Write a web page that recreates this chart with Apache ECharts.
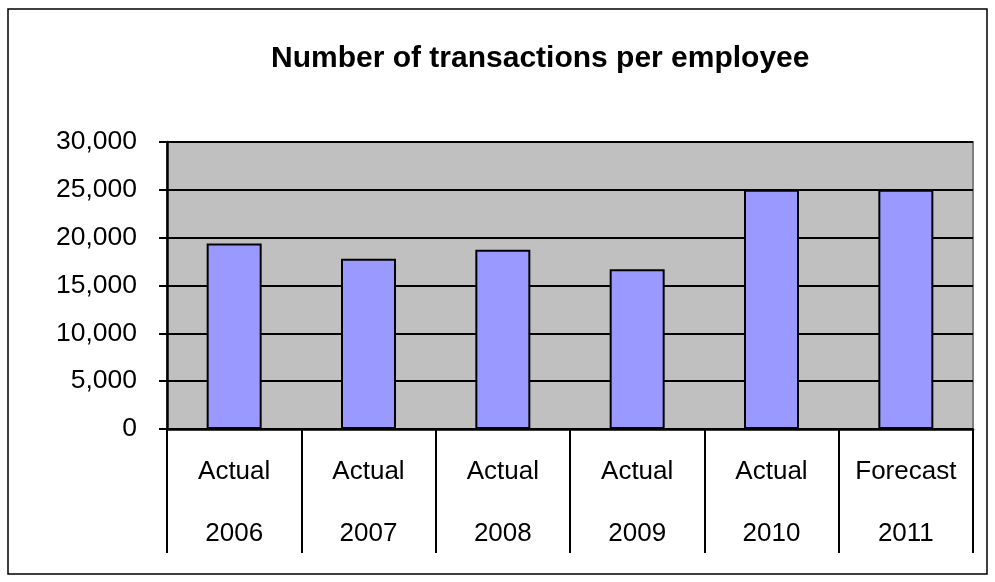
<!DOCTYPE html>
<html>
<head>
<meta charset="utf-8">
<script src="https://cdn.jsdelivr.net/npm/echarts@6/dist/echarts.min.js"></script>
<style>
  html, body { margin: 0; padding: 0; background: #ffffff; }
  #chart { width: 995px; height: 582px; }
</style>
</head>
<body>
<div id="chart"></div>
<script>
// Two-level category labels: status on top, year below
const statuses = ['Actual', 'Actual', 'Actual', 'Actual', 'Actual', 'Forecast'];
const years = ['2006', '2007', '2008', '2009', '2010', '2011'];
const transactions = [19400, 17800, 18750, 16700, 25000, 25000];
const yTicks = { min: 0, max: 30000, step: 5000 };

const categories = years.map((y, i) => statuses[i] + '\n' + y);
const FONT = "'Liberation Sans', Arial, sans-serif";

const chart = echarts.init(document.getElementById('chart'));
chart.setOption({
  animation: false,
  backgroundColor: '#ffffff',
  textStyle: { fontFamily: FONT },
  title: {
    text: 'Number of transactions per employee',
    left: 266,
    top: 39,
    textStyle: { fontFamily: FONT, fontSize: 30, fontWeight: 'bold', color: '#000' }
  },
  graphic: [{
    type: 'rect',
    shape: { x: 8, y: 9, width: 979, height: 565 },
    style: { fill: 'none', stroke: '#000', lineWidth: 1.5 },
    silent: true
  }],
  grid: {
    left: 167, right: 22, top: 142, bottom: 153,
    containLabel: false,
    outerBoundsMode: 'none',
    show: true,
    backgroundColor: '#C0C0C0',
    borderColor: '#808080',
    borderWidth: 2
  },
  xAxis: {
    type: 'category',
    data: categories,
    boundaryGap: true,
    axisLine: { show: true, lineStyle: { color: '#000', width: 2.5 } },
    axisTick: { show: true, interval: 0, length: 124, lineStyle: { color: '#000', width: 2 } },
    axisLabel: {
      interval: 0,
      margin: 12,
      fontFamily: FONT,
      fontSize: 26,
      lineHeight: 62,
      color: '#000'
    },
    splitLine: { show: false }
  },
  yAxis: {
    type: 'value',
    min: yTicks.min,
    max: yTicks.max,
    interval: yTicks.step,
    axisLine: { show: true, lineStyle: { color: '#000', width: 2.5 } },
    axisTick: { show: true, length: 8, lineStyle: { color: '#000', width: 2 } },
    axisLabel: {
      margin: 30,
      fontFamily: FONT,
      fontSize: 26.5,
      color: '#000',
      formatter: v => v.toLocaleString('en-US')
    },
    splitLine: { show: true, lineStyle: { color: '#000', width: 2 } }
  },
  series: [{
    type: 'bar',
    data: transactions,
    barWidth: 55,
    itemStyle: { color: '#9999FF', borderColor: '#000', borderWidth: 2 }
  }]
});
</script>
</body>
</html>
